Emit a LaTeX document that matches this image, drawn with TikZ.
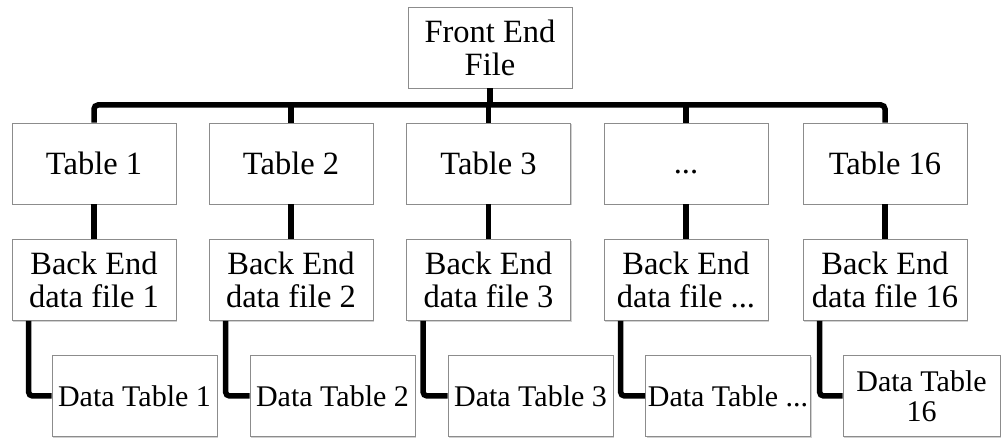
\documentclass[tikz,border=0pt]{standalone}
\usepackage{fontspec}
\setmainfont{Liberation Serif}
\usetikzlibrary{shadows,calc}
\begin{document}
\begin{tikzpicture}[x=1pt,y=-1pt,
  box/.style={draw=black!45, line width=0.8pt, fill=white, inner sep=0pt, align=center,
    minimum width=164pt, minimum height=81pt,
    drop shadow={shadow xshift=1pt, shadow yshift=-1.5pt, opacity=0.3, fill=black!60},
    font=\fontsize{32.5}{33}\selectfont},
  dbox/.style={box, minimum width=165pt, font=\fontsize{30}{30}\selectfont},
  conn/.style={line width=5.5pt, line cap=butt, rounded corners=4pt}]
\useasboundingbox (0,0) rectangle (1002,438);
% front end
\node[box] (fe) at (490,47.5) {Front End\\File};
% tables
\node[box] (t1) at (94,163.5) {Table 1};
\node[box] (t2) at (291,163.5) {Table 2};
\node[box] (t3) at (488.5,163.5) {Table 3};
\node[box] (t4) at (686,163.5) {\vphantom{T}...};
\node[box] (t5) at (885,163.5) {Table 16};
% back end
\node[box] (b1) at (94,280) {Back End\\data file 1};
\node[box] (b2) at (291,280) {Back End\\data file 2};
\node[box] (b3) at (488.5,280) {Back End\\data file 3};
\node[box] (b4) at (686,280) {Back End\\data file ...};
\node[box] (b5) at (885,280) {Back End\\data file 16};
% data tables
\node[dbox] (d1) at (134.5,396) {Data Table 1};
\node[dbox] (d2) at (332.5,396) {Data Table 2};
\node[dbox] (d3) at (530.5,396) {Data Table 3};
\node[dbox] (d4) at (728,396) {Data Table ...};
\node[dbox, minimum width=157pt] (d5) at (921.5,396) {Data Table\\16};
% connectors
\coordinate (barR) at (885,105);
\draw[conn] (t1.north) |- (barR) -- (t5.north);
\draw[conn] (fe.south) -- (fe.south |- barR);
\draw[conn] (t2.north) -- (t2.north |- barR);
\draw[conn] (t3.north) -- (t3.north |- barR);
\draw[conn] (t4.north) -- (t4.north |- barR);
\foreach \i in {1,...,5}{
  \draw[conn] (t\i.south) -- (b\i.north);
  \draw[conn] ($(b\i.south west)+(17,0)$) |- (d\i.west);
}
\end{tikzpicture}
\end{document}
